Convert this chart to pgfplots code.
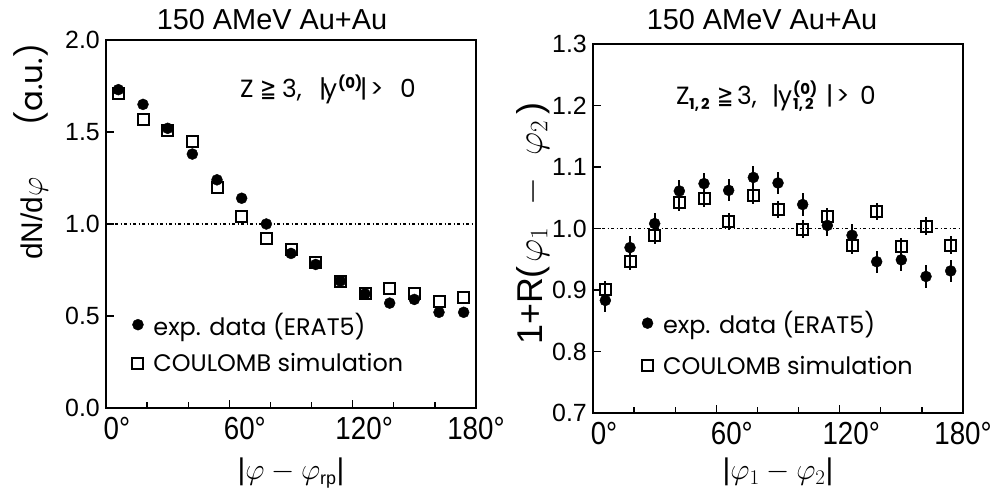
\RequirePackage{fix-cm}
\documentclass[border=0pt]{standalone}
\usepackage{pgfplots}
\pgfplotsset{compat=1.18}
\usepackage{graphicx}
\usepackage{fontspec}
\setmainfont{Liberation Sans}
\newfontfamily\geo{Poppins}
\newfontfamily\narrow[FakeStretch=0.87]{Liberation Sans}
\newfontfamily\dejavu{DejaVu Sans}
\newcommand\fs[1]{\fontsize{#1}{#1}\selectfont}
\newcommand\cell[2]{\makebox[#1bp][l]{#2}}
\newcommand\idx[1]{{\fs{15}\bfseries #1}}
\newcommand\geqqsym{\scalebox{0.75}[1]{\dejavu\fs{26}≧}}

\pgfplotsset{
  panel/.style={
    scale only axis, width=370bp, anchor=south west,
    xmin=0, xmax=180, clip=false,
    axis line style={line width=2bp},
    every tick/.style={black, line width=1.3bp},
    major tick length=8bp, minor tick length=6bp,
    tick align=inside, tick pos=left,
    xtick={0,60,120,180},
    xticklabels={\hspace{22bp}0°,\hspace{31bp}60°,\hspace{23bp}120°,180°\hspace{14bp}},
    minor xtick={20,40,80,100,140,160},
    xticklabel style={font=\narrow\fs{32}, inner sep=0pt, yshift=-9bp},
    yticklabel style={font=\fs{25}, inner sep=0pt, xshift=-6bp},
    legend cell align=left,
    legend style={draw=none, fill=none, font=\geo\fs{24}, inner sep=0pt,
      nodes={inner sep=1bp}, column sep=9bp},
  },
  expdata/.style={only marks, mark=*, mark size=5.5bp, black},
  simdata/.style={only marks, mark=square, mark size=5.5bp, black,
    mark options={line width=2bp, fill=none}},
  oneline/.style={black, line width=1.3bp,
    dash pattern=on 3bp off 2.5bp on 1bp off 2.5bp, forget plot},
  bars/.style={error bars/.cd, y dir=both, y explicit,
    error bar style={line width=2bp}, error mark=none},
}

\begin{document}
\begin{tikzpicture}[x=1bp,y=1bp]
\useasboundingbox (0,0) rectangle (996,491);

% ---- single-particle azimuthal distribution ----
\begin{axis}[panel, at={(106bp,83bp)}, height=368bp,
  ymin=0, ymax=2, ytick={0,0.5,1,1.5,2},
  yticklabels={0.0,0.5,1.0,1.5,2.0},
  legend style={at={(0.071,0.262)}, anchor=north west, row sep=15bp}]
\addplot[oneline] coordinates {(0,1) (180,1)};
\addplot[expdata] table {
x y
6 1.73
18 1.65
30 1.52
42 1.38
54 1.24
66 1.14
78 1.00
90 0.84
102 0.78
114 0.69
126 0.62
138 0.57
150 0.59
162 0.52
174 0.52
};
\addlegendentry{exp. data (ERAT5)}
\addplot[simdata] table {
x y
6 1.71
18 1.57
30 1.51
42 1.45
54 1.20
66 1.04
78 0.92
90 0.86
102 0.79
114 0.69
126 0.62
138 0.65
150 0.62
162 0.58
174 0.60
};
\addlegendentry{COULOMB simulation}
\end{axis}

% ---- relative azimuthal correlation ----
\begin{axis}[panel, at={(593bp,78bp)}, height=369bp,
  ymin=0.7, ymax=1.3, ytick={0.7,0.8,0.9,1.0,1.1,1.2,1.3},
  yticklabels={0.7,0.8,0.9,1.0,1.1,1.2,1.3},
  legend style={at={(0.132,0.279)}, anchor=north west, row sep=19bp}]
\addplot[oneline] coordinates {(0,1) (180,1)};
\addplot[expdata, bars] table[y error=e] {
x y e
6 0.883 0.018
18 0.969 0.018
30 1.008 0.018
42 1.061 0.018
54 1.073 0.018
66 1.062 0.018
78 1.083 0.018
90 1.074 0.018
102 1.039 0.018
114 1.005 0.018
126 0.989 0.018
138 0.946 0.018
150 0.949 0.018
162 0.922 0.018
174 0.931 0.018
};
\addlegendentry{exp. data (ERAT5)}
\addplot[simdata, bars] table[y error=e] {
x y e
6 0.900 0.014
18 0.947 0.014
30 0.989 0.014
42 1.042 0.014
54 1.049 0.014
66 1.011 0.014
78 1.054 0.014
90 1.031 0.014
102 0.999 0.014
114 1.020 0.014
126 0.973 0.014
138 1.027 0.014
150 0.971 0.014
162 1.004 0.014
174 0.973 0.014
};
\addlegendentry{COULOMB simulation}
\end{axis}

% titles
\node[anchor=base, font=\fs{29}, inner sep=0] at (272,461) {150 AMeV Au+Au};
\node[anchor=base, font=\fs{29}, inner sep=0] at (762,461) {150 AMeV Au+Au};

% cut annotations
\node[anchor=base west, font=\geo\fs{25}, inner sep=0] at (240,393)
  {\cell{20}{Z}\cell{22}{\geqqsym}\cell{37}{3,}\cell{4}{|}\cell{15}{y}%
   \cell{22}{\raisebox{9bp}{\idx{(0)}}}\cell{10}{|}\cell{30}{>}0};
\node[anchor=base west, font=\geo\fs{25}, inner sep=0] at (676,386)
  {\cell{13}{Z}\cell{28}{\raisebox{-5bp}{\idx{1,\hspace{2bp}2}}}\cell{20}{\geqqsym}%
   \cell{35}{3,}\cell{6}{|}\cell{15}{y}%
   \cell{33}{\rlap{\raisebox{10bp}{\idx{(0)}}}\raisebox{-5bp}{\idx{1,\hspace{2bp}2}}}%
   \cell{10}{|}\cell{24}{>}0};

% axis titles
\node[rotate=90, anchor=base west, inner sep=0, font=\fs{30}] at (42,231)
  {dN/d$\varphi$\hspace{52bp}{\geo\fs{31}(a.u.)}};
\node[rotate=90, anchor=base west, inner sep=0, font=\fs{36}] at (542,146)
  {1+R(\hspace{4bp}$\varphi_1\hspace{14bp}-\hspace{14bp}\varphi_2$\hspace{6bp})};
\node[anchor=base, font=\fs{30}, inner sep=0] at (291,11)
  {|$\varphi-\varphi_{\mbox{\fs{18}rp}}$|};
\node[anchor=base, font=\fs{30}, inner sep=0] at (778,11)
  {|$\varphi_1-\varphi_2$|};
\end{tikzpicture}
\end{document}
